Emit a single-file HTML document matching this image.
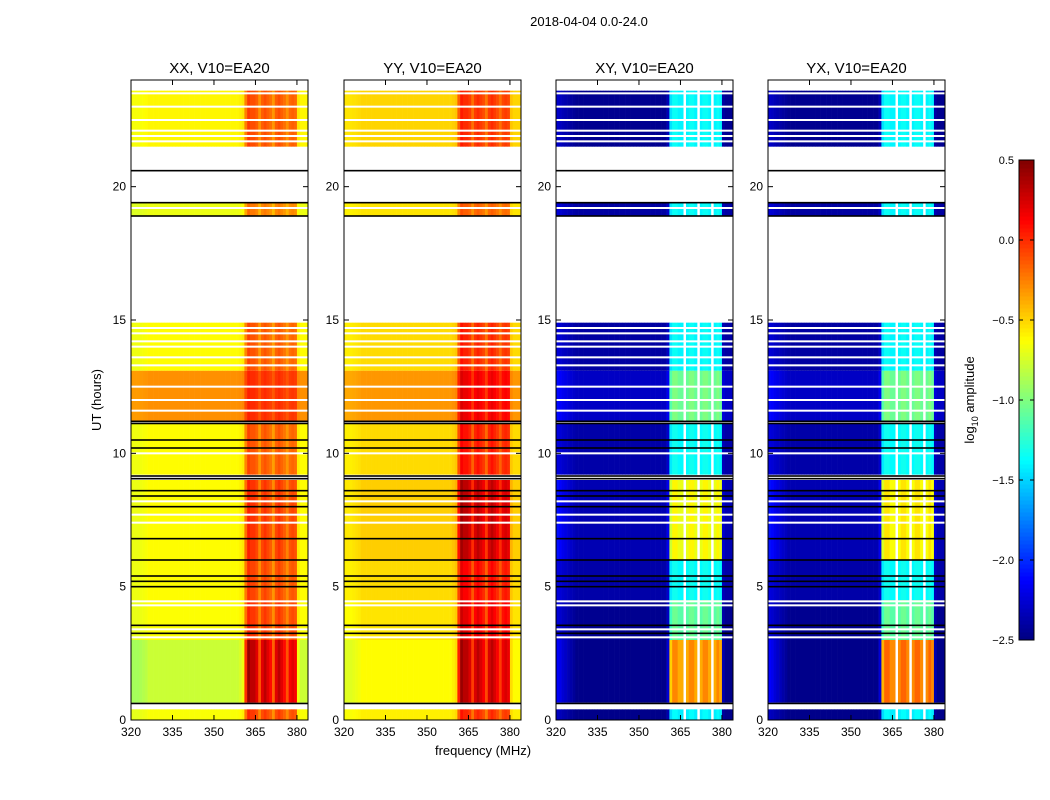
<!DOCTYPE html>
<html><head><meta charset="utf-8"><style>
body{margin:0;background:#fff;}
svg{display:block;font-family:"Liberation Sans",sans-serif;}
</style></head><body>
<svg id="fig" width="1050" height="800" viewBox="0 0 1050 800" xmlns="http://www.w3.org/2000/svg">
<rect width="1050" height="800" fill="#fff"/>
<text x="589" y="26" font-size="13" text-anchor="middle">2018-04-04 0.0-24.0</text>
<text transform="translate(101,400) rotate(-90)" font-size="13" text-anchor="middle">UT (hours)</text>
<text x="483" y="755" font-size="13" text-anchor="middle">frequency (MHz)</text>
<g id="panels"></g>
<g id="cbar"></g>
<text transform="translate(974,400) rotate(-90)" font-size="13" text-anchor="middle">log<tspan font-size="9" dy="4">10</tspan><tspan dy="-4"> amplitude</tspan></text>
</svg>
<script>
// ---- data ----
const panelTitles = ["XX, V10=EA20","YY, V10=EA20","XY, V10=EA20","YX, V10=EA20"];
const xTicks = [320,335,350,365,380];
const yTicks = [0,5,10,15,20];
const cbTicks = [0.5,0.0,-0.5,-1.0,-1.5,-2.0,-2.5];
const freqStart = [320,321,322,323,324,325,326,327,328,329,330,331,332,333,334,335,336,337,338,339,340,341,342,343,344,345,346,347,348,349,350,351,352,353,354,355,356,357,358,359,360,361,362,363,364,365,366,367,368,369,370,371,372,373,374,375,376,377,378,379,380,381,382,383];
const autoProfile = [-0.05,-0.05,-0.05,-0.04,-0.03,-0.02,0,0,0,0,0,0,0,0,0,0,0,0,0,0,0,0,0,0,0,0,0,0,0,0,0,0,0,0,0,0,0,0,0,0.02,0.05,0.35,0.55,0.5,0.5,0.45,0.3,0.45,0.5,0.45,0.4,0.28,0.45,0.5,0.45,0.4,0.3,0.42,0.45,0.42,0.05,0,0,0];
const crossProfile = [0.15,0.13,0.1,0.08,0.06,0.04,0.02,0,0,0,0,0,0,0,0,0,0,0,0,0,0,0,0,0,0,0,0,0,0,0,0,0,0,0,0,0,0,0,0,0,0.1,0.9,1.0,1.0,0.95,0.95,null,0.95,1.0,1.0,0.95,null,0.95,1.0,1.0,0.95,null,0.95,1.0,0.95,0.05,0,0,0];
const segStart = [0.0,0.65,3.0,4.5,6.0,9.2,11.2,13.1,18.9,21.5];
const segEnd   = [0.4,3.0,4.5,6.0,9.0,11.1,13.1,14.9,19.4,23.6];
const xxLevel = [-0.64,-0.78,-0.63,-0.62,-0.62,-0.62,-0.3,-0.62,-0.68,-0.6];
const xxBoost = [1.2,2.2,1.2,1.1,1.2,1.0,0.6,1.0,0.9,1.0];
const yyLevel = [-0.58,-0.62,-0.55,-0.52,-0.48,-0.52,-0.32,-0.52,-0.55,-0.5];
const yyBoost = [1.2,1.9,1.5,1.3,1.6,1.2,1.0,1.1,0.8,1.0];
const xyLevel = [-2.47,-2.47,-2.45,-2.38,-2.35,-2.38,-2.3,-2.4,-2.4,-2.45];
const xyBoost = [1.1,2.2,1.4,1.05,1.75,1.05,1.3,1.05,1.05,1.1];
const yxLevel = [-2.47,-2.47,-2.45,-2.38,-2.35,-2.38,-2.3,-2.4,-2.4,-2.45];
const yxBoost = [1.1,2.3,1.4,1.05,1.8,1.05,1.3,1.05,1.05,1.1];
const whiteLines = [3.1,3.4,4.3,4.45,7.4,7.7,8.2,10.0,11.6,12.0,12.5,13.3,13.6,14.0,14.2,14.5,14.7,19.2,21.7,21.9,22.1,22.5,23.0,23.5];
const blackLines = [0.62,3.25,3.55,5.0,5.2,5.4,6.0,6.8,8.0,8.4,8.6,9.05,9.15,10.2,10.5,11.12,11.2,18.9,19.4,20.6];
// ---- render ----
const NS="http://www.w3.org/2000/svg";
const panelX=[131,344,556,768], PW=177, PT=80, PB=720;
const levels=[xxLevel,yyLevel,xyLevel,yxLevel], boosts=[xxBoost,yyBoost,xyBoost,yxBoost];
const profiles=[autoProfile,autoProfile,crossProfile,crossProfile];
const vmin=-2.5, vmax=0.5;
function jet(v){let t=(v-vmin)/(vmax-vmin);t=Math.max(0,Math.min(1,t));
 const f=(x)=>Math.max(0,Math.min(1,1.5-Math.abs(4*t-x)));
 return `rgb(${Math.round(f(3)*255)},${Math.round(f(2)*255)},${Math.round(f(1)*255)})`;}
function mk(tag,attrs,parent){const e=document.createElementNS(NS,tag);for(const k in attrs)e.setAttribute(k,attrs[k]);parent.appendChild(e);return e;}
const gp=document.getElementById('panels');
panelTitles.forEach((title,p)=>{
 const L=panelX[p];
 const xs=f=>L+(f-320)*PW/64;
 const ys=h=>PB-h*(PB-PT)/24;
 const g=mk('g',{},gp);
 
 
 for(let s=0;s<segStart.length;s++){
  for(let c=0;c<freqStart.length;c++){
   const pr=profiles[p][c]; if(pr===null) continue;
   const v=levels[p][s]+boosts[p][s]*pr;
   const r=mk('rect',{x:xs(freqStart[c]).toFixed(2),y:ys(segEnd[s]).toFixed(2),width:(PW/64+0.3).toFixed(2),height:(ys(segStart[s])-ys(segEnd[s])).toFixed(2),fill:jet(v)},g);
   
   
  }
 }
 whiteLines.forEach(h=>{const l=mk('rect',{x:L,y:ys(h)-1,width:PW,height:2,fill:'#fff'},g);
  });
 blackLines.forEach(h=>{const l=mk('rect',{x:L,y:ys(h)-0.8,width:PW,height:1.6,fill:'#000'},g);
  });
 const fr=mk('rect',{x:L,y:PT,width:PW,height:PB-PT,fill:'none',stroke:'#000','stroke-width':1},g);
 
 const t=mk('text',{x:L+PW/2,y:73,'font-size':15,'text-anchor':'middle'},g);t.textContent=title;
 
 xTicks.forEach(f=>{const x=xs(f);
  mk('line',{x1:x,x2:x,y1:PB,y2:PB-5,stroke:'#000'},g);mk('line',{x1:x,x2:x,y1:PT,y2:PT+5,stroke:'#000'},g);
  const tl=mk('text',{x:x,y:PB+16,'font-size':12,'text-anchor':'middle'},g);tl.textContent=f;
  });
 yTicks.forEach(h=>{const y=ys(h);
  mk('line',{x1:L,x2:L+5,y1:y,y2:y,stroke:'#000'},g);mk('line',{x1:L+PW,x2:L+PW-5,y1:y,y2:y,stroke:'#000'},g);
  const tl=mk('text',{x:L-5,y:y+4,'font-size':12,'text-anchor':'end'},g);tl.textContent=h;
  });
});
// colorbar
const cb=document.getElementById('cbar');const CL=1019,CW=15,CT=160,CB=640;
for(let i=0;i<120;i++){const v=vmin+(i+0.5)*(vmax-vmin)/120;
 const y=CB-(i+1)*(CB-CT)/120;mk('rect',{x:CL,y:y,width:CW,height:(CB-CT)/120+0.5,fill:jet(v)},cb);}
mk('rect',{x:CL,y:CT,width:CW,height:CB-CT,fill:'none',stroke:'#000'},cb);
cbTicks.forEach(v=>{const y=CB-(v-vmin)/(vmax-vmin)*(CB-CT);
 mk('line',{x1:CL,x2:CL+4,y1:y,y2:y,stroke:'#000'},cb);mk('line',{x1:CL+CW,x2:CL+CW-4,y1:y,y2:y,stroke:'#000'},cb);
 const t=mk('text',{x:CL-5,y:y+4,'font-size':11,'text-anchor':'end'},cb);t.textContent=(v<0?'\u2212':'')+Math.abs(v).toFixed(1);
 });
</script>
</body></html>
